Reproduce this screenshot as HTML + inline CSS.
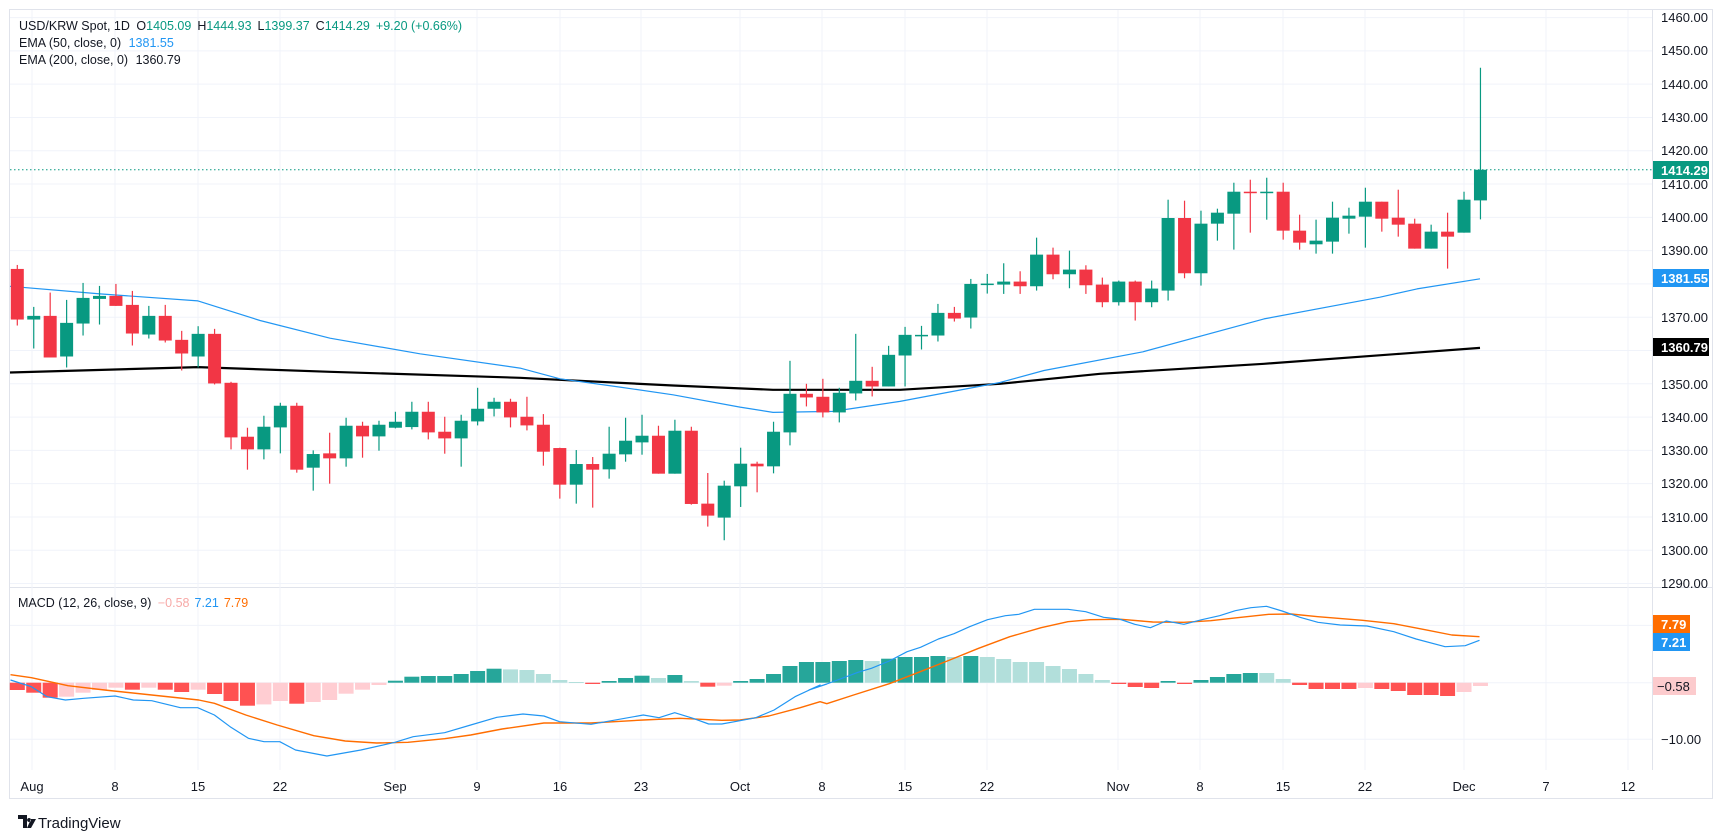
<!DOCTYPE html>
<html><head><meta charset="utf-8">
<style>
html,body{margin:0;padding:0;background:#fff;}
svg{display:block;font-family:"Liberation Sans",Arial,sans-serif;}
</style></head>
<body>
<svg id="c" width="1723" height="835" xmlns="http://www.w3.org/2000/svg">
<rect x="0" y="0" width="1723" height="835" fill="#fff"/>
<rect x="9.5" y="9.5" width="1703" height="789" fill="none" stroke="#e0e3eb" stroke-width="1"/>
<line x1="10" y1="587.5" x2="1712" y2="587.5" stroke="#e0e3eb"/>
<g id="grid"></g>
<g id="main"></g>
<g id="macd"></g>
<g font-size="13" fill="#131722">
<text x="1661" y="22">1460.00</text>
<text x="1661" y="55">1450.00</text>
<text x="1661" y="89">1440.00</text>
<text x="1661" y="122">1430.00</text>
<text x="1661" y="155">1420.00</text>
<text x="1661" y="189">1410.00</text>
<text x="1661" y="222">1400.00</text>
<text x="1661" y="255">1390.00</text>
<text x="1661" y="322">1370.00</text>
<text x="1661" y="389">1350.00</text>
<text x="1661" y="422">1340.00</text>
<text x="1661" y="455">1330.00</text>
<text x="1661" y="488">1320.00</text>
<text x="1661" y="522">1310.00</text>
<text x="1661" y="555">1300.00</text>
<text x="1661" y="588">1290.00</text>
<text x="1661" y="744">−10.00</text>
</g>
<rect x="1653" y="161" width="56" height="18" fill="#089981"/>
<text x="1661" y="175" font-size="13" fill="#fff" font-weight="bold">1414.29</text>
<rect x="1653" y="269" width="56" height="18" fill="#2196f3"/>
<text x="1661" y="283" font-size="13" fill="#fff" font-weight="bold">1381.55</text>
<rect x="1653" y="338" width="56" height="18" fill="#000"/>
<text x="1661" y="352" font-size="13" fill="#fff" font-weight="bold">1360.79</text>
<rect x="1653" y="615" width="37" height="18" fill="#ff6d00"/>
<text x="1661" y="629" font-size="13" fill="#fff" font-weight="bold">7.79</text>
<rect x="1653" y="633" width="37" height="18" fill="#2196f3"/>
<text x="1661" y="647" font-size="13" fill="#fff" font-weight="bold">7.21</text>
<rect x="1653" y="677" width="43" height="18" fill="#fccbcd"/>
<text x="1657" y="691" font-size="13" fill="#131722">−0.58</text>
<g font-size="13" fill="#131722" text-anchor="middle">
<text x="32" y="791">Aug</text>
<text x="115" y="791">8</text>
<text x="198" y="791">15</text>
<text x="280" y="791">22</text>
<text x="395" y="791">Sep</text>
<text x="477" y="791">9</text>
<text x="560" y="791">16</text>
<text x="641" y="791">23</text>
<text x="740" y="791">Oct</text>
<text x="822" y="791">8</text>
<text x="905" y="791">15</text>
<text x="987" y="791">22</text>
<text x="1118" y="791">Nov</text>
<text x="1200" y="791">8</text>
<text x="1283" y="791">15</text>
<text x="1365" y="791">22</text>
<text x="1464" y="791">Dec</text>
<text x="1546" y="791">7</text>
<text x="1628" y="791">12</text>
</g>
<g font-size="12.5">
<text x="19" y="30" fill="#131722">USD/KRW Spot, 1D <tspan dx="3">O</tspan><tspan fill="#089981">1405.09</tspan><tspan dx="6">H</tspan><tspan fill="#089981">1444.93</tspan><tspan dx="6">L</tspan><tspan fill="#089981">1399.37</tspan><tspan dx="6">C</tspan><tspan fill="#089981">1414.29</tspan><tspan dx="6" fill="#089981">+9.20 (+0.66%)</tspan></text>
<text x="19" y="47" fill="#131722">EMA (50, close, 0) <tspan dx="4" fill="#2196f3">1381.55</tspan></text>
<text x="19" y="64" fill="#131722">EMA (200, close, 0) <tspan dx="4">1360.79</tspan></text>
<text x="18" y="607" fill="#131722">MACD (12, 26, close, 9) <tspan dx="3" fill="#f7a9a7">−0.58</tspan><tspan dx="5" fill="#2196f3">7.21</tspan><tspan dx="5" fill="#ff6d00">7.79</tspan></text>
</g>
<g>
<path d="M18 815 h9 v13 h-4 v-9 h-5z M29 818 a2 2 0 1 0 0.1 0z M31 819 h5 l-5 9 h-4z" fill="#131722"/>
<text x="38" y="828" font-size="15" fill="#131722">TradingView</text>
</g>
</svg>
<script>
const NS="http://www.w3.org/2000/svg";
function el(p,t,a){const e=document.createElementNS(NS,t);for(const k in a)e.setAttribute(k,a[k]);p.appendChild(e);return e;}
const grid=document.getElementById('grid'),main=document.getElementById('main'),macd=document.getElementById('macd');
const Y=p=>17.6+(1460-p)*3.329;
const X=i=>17.3+16.44*i;
for(let p=1290;p<=1460;p+=10){el(grid,'line',{x1:10,x2:1652,y1:Y(p),y2:Y(p),stroke:'#f0f3fa'});}
[625.4,682.7,739.3].forEach(y=>el(grid,'line',{x1:10,x2:1652,y1:y,y2:y,stroke:'#f0f3fa'}));
[32,115,198,280,395,477,560,641,740,822,905,987,1118,1200,1283,1365,1464,1546,1628].forEach(x=>el(grid,'line',{x1:x,x2:x,y1:10,y2:770,stroke:'#f0f3fa'}));
el(grid,'line',{x1:1652.5,x2:1652.5,y1:10,y2:770,stroke:'#e0e3eb'});
const D=[[1384.5,1385.7,1367.5,1369.3],[1369.3,1373.1,1360.6,1370.4],[1370.4,1377.4,1357.9,1357.9],[1358.2,1375.2,1354.9,1368.3],[1368.1,1380.3,1364.5,1375.8],[1375.5,1379.4,1367.8,1376.4],[1376.4,1380,1373.4,1373.4],[1373.7,1377.9,1361.5,1365.1],[1364.8,1373.4,1363.6,1370.4],[1370.4,1373.7,1362.4,1363.0],[1363.2,1365.9,1354.0,1359.1],[1358.2,1367.3,1354.9,1365.0],[1365.0,1366.5,1349.8,1350.1],[1350.3,1350.6,1330.3,1333.9],[1334.1,1336.8,1324.2,1330.3],[1330.3,1340.4,1327.3,1337.1],[1336.9,1344.3,1329.1,1343.4],[1343.4,1344.3,1323.3,1324.2],[1324.8,1330.0,1317.9,1328.9],[1329.1,1335.3,1320,1327.6],[1327.6,1339.8,1325.1,1337.4],[1337.4,1338.6,1327.8,1334.2],[1334.2,1338.9,1329.9,1337.7],[1336.8,1341.6,1336.6,1338.6],[1337.0,1344.6,1336.3,1341.6],[1341.6,1344.6,1333.3,1335.4],[1335.6,1340.1,1329.0,1333.6],[1333.6,1340.7,1325.1,1338.9],[1338.7,1348.8,1337.5,1342.5],[1342.5,1345.8,1340.2,1344.6],[1344.6,1345.5,1336.9,1339.9],[1340.1,1346.1,1336.0,1337.5],[1337.7,1340.9,1325.4,1329.6],[1330.7,1330.8,1315.5,1319.7],[1319.7,1330.1,1314.0,1325.9],[1325.9,1328,1312.8,1324.2],[1324.3,1337.1,1321.5,1329.0],[1328.8,1339.8,1326.6,1332.9],[1332.4,1340.7,1328.7,1334.4],[1334.4,1337.4,1323.0,1323.0],[1323.0,1339.2,1323.0,1335.9],[1335.9,1337.1,1313.7,1313.9],[1314.0,1323.2,1307.1,1310.4],[1309.8,1320.9,1303,1319.4],[1319.2,1330.8,1313,1326.0],[1326.0,1326.6,1317.4,1325.2],[1325.2,1338.6,1323.1,1335.6],[1335.4,1356.9,1331.5,1347.0],[1347.0,1350.0,1343.2,1345.9],[1346.1,1351.5,1339.9,1341.4],[1341.4,1348.8,1338.4,1347.3],[1347.1,1365,1345,1350.9],[1350.9,1355.1,1346.2,1349.2],[1349.2,1361.4,1349.2,1358.7],[1358.5,1367.1,1349.2,1364.7],[1364.4,1367.4,1360.3,1364.7],[1364.5,1374.0,1362.7,1371.3],[1371.3,1373.1,1368.7,1369.6],[1369.9,1381.5,1366.6,1380.0],[1380.0,1383,1377.1,1380.1],[1379.8,1386.2,1377,1380.7],[1380.7,1383.8,1377,1379.3],[1379.3,1393.9,1378,1388.8],[1388.8,1390.9,1381.4,1382.9],[1382.9,1390.0,1378.7,1384.3],[1384.3,1385.6,1377,1379.6],[1379.8,1381.9,1373,1374.5],[1374.5,1381,1373.5,1380.7],[1380.7,1381,1369,1374.5],[1374.5,1381,1373,1378.6],[1378,1405.3,1375,1399.8],[1399.8,1405,1381.7,1383.2],[1383.2,1402,1379.5,1398.1],[1398.1,1402.6,1393,1401.4],[1401.1,1410.4,1390.3,1407.7],[1407.7,1411.3,1395.4,1407.6],[1407.6,1411.9,1399.3,1407.7],[1407.7,1410.4,1393.3,1396.0],[1396.0,1400.8,1390.3,1392.4],[1391.9,1399.3,1389.1,1393.0],[1392.7,1404.7,1389.1,1399.9],[1399.6,1402.9,1395.1,1400.5],[1400.2,1408.9,1390.9,1404.7],[1404.7,1404.7,1395.7,1399.6],[1399.9,1408.3,1394.2,1397.8],[1398.1,1399.6,1390.6,1390.6],[1390.6,1397.8,1390.6,1395.7],[1395.7,1401.4,1384.6,1394.2],[1395.4,1407.7,1395.4,1405.3],[1405.09,1444.93,1399.37,1414.29]];
function poly(g,pts,col,w){el(g,'polyline',{points:pts.map(p=>p[0].toFixed(1)+','+p[1].toFixed(1)).join(' '),fill:'none',stroke:col,'stroke-width':w,'stroke-linejoin':'round'});}
const e50=[[10,1379.3],[100,1377],[198,1374.9],[260,1369],[330,1363.7],[420,1359],[520,1354.7],[560,1351.5],[620,1349],[673,1346.7],[740,1343],[773,1341.4],[833,1341.7],[900,1344.7],[1000,1350.4],[1044,1354],[1143,1359.6],[1264,1369.5],[1380,1376],[1417,1378.5],[1480,1381.55]];
const e200=[[10,1353.4],[198,1355],[330,1353.6],[520,1351.8],[673,1349.5],[773,1348.2],[900,1348.2],[1000,1350],[1100,1353],[1264,1356],[1400,1359],[1480,1360.79]];
poly(main,e200.map(p=>[p[0],Y(p[1])]),'#000',2.2);
poly(main,e50.map(p=>[p[0],Y(p[1])]),'#2196f3',1.2);
el(main,'line',{x1:10,x2:1652,y1:Y(1414.29),y2:Y(1414.29),stroke:'#089981','stroke-dasharray':'1.5,2.5'});
D.forEach((d,i)=>{const [o,h,l,c]=d;const up=c>=o;const col=up?'#089981':'#f23645';const x=X(i);
el(main,'line',{x1:x,x2:x,y1:Y(h),y2:Y(l),stroke:col,'stroke-width':1.2});
const t=Y(Math.max(o,c)),b=Y(Math.min(o,c));el(main,'rect',{x:x-6.5,y:t,width:13,height:Math.max(1.5,b-t),fill:col});});
const H="R-7.3 R-10 R-15 r-14 r-10 r-7.3 r-5 R-7 r-5 R-7 R-9.3 r-7 R-11.3 R-18.3 R-23 r-21.7 r-18.3 R-21 r-19.3 r-17.3 r-11 r-7 r-2.3 G2 G6 G6.7 G6.7 G8.7 G11.7 G14 g13.3 g12.7 g8.7 g2.7 g0.7 R-1.3 G1.7 G4.7 G7 g4.7 G7.7 g1.7 R-4 r-3 G1.7 G3.7 G8.7 G16.7 G20.7 G20.7 G21.7 G22.7 g21.7 G24 G25.7 G25.7 G26.7 g25.7 G26.7 g25.7 g23.7 g20.7 g20.7 g16.7 g13.7 g8.7 g2.7 R-1.3 R-4.3 R-5.3 G1.7 R-1.3 G2.7 G5.7 G8.7 G9.7 g9.7 g3.7 R-2.3 R-6.3 R-6.3 R-6.3 r-5.3 R-6.3 R-8.3 R-12.3 R-12.3 R-13.3 r-9.3 r-3.3".split(' ');
const C={G:'#26a69a',g:'#b2dfdb',R:'#ff5252',r:'#ffcdd2'};const Z=682.7;
H.forEach((s,i)=>{const h=parseFloat(s.slice(1));const x=X(i);el(macd,'rect',{x:x-7.5,y:h>0?Z-h:Z,width:15,height:Math.max(1,Math.abs(h)),fill:C[s[0]]});});
const b10=[[20,285],[60,305],[90,335],[125,345],[160,340],[220,333],[255,345],[290,347],[345,368],[378,368],[410,390],[440,425],[475,460],[505,470],[535,470],[565,495],[625,513],[690,495],[755,472],[790,455],[850,443],[900,420],[950,397],[1000,387],[1040,393],[1070,410],[1130,418],[1230,390],[1260,398],[1290,383],[1325,400],[1355,417],[1380,417],[1415,407],[1445,398],[1480,375],[1520,335],[1568,300]];
const o10=[[20,269],[60,278],[130,302],[200,315],[290,330],[380,345],[410,355],[470,390],[530,420],[600,452],[660,468],[720,474],[780,472],[850,461],[900,450],[960,432],[1040,414],[1130,414],[1230,405],[1300,400],[1380,406],[1415,405],[1470,393],[1530,368],[1568,350]];
const b11=[[20,315],[60,297],[90,282],[130,262],[160,250],[200,228],[240,200],[270,187],[310,162],[345,146],[380,125],[420,104],[460,92],[490,88],[525,73],[600,73],[640,80],[680,97],[715,102],[750,118],[785,128],[820,108],[860,118],[900,104],[940,92],[975,77],[1010,68],[1045,64],[1080,78],[1120,97],[1160,112],[1210,120],[1270,123],[1330,140],[1380,162],[1445,185],[1490,182],[1522,166]];
const o11=[[60,356],[120,330],[200,296],[260,265],[330,228],[400,190],[470,155],[540,128],[600,110],[650,104],[720,103],[790,111],[860,112],[920,107],[980,98],[1050,88],[1100,87],[1160,95],[1260,106],[1330,116],[1400,134],[1460,150],[1522,155]];
const t10=p=>[p[0]/1.912,585+p[1]/3],t11=p=>[800+p[0]/2.24,585+p[1]/3];
poly(macd,o10.map(t10).concat(o11.map(t11)),'#ff6d00',1.4);
poly(macd,b10.map(t10).concat(b11.map(t11)),'#2196f3',1.2);
</script>
</body></html>
